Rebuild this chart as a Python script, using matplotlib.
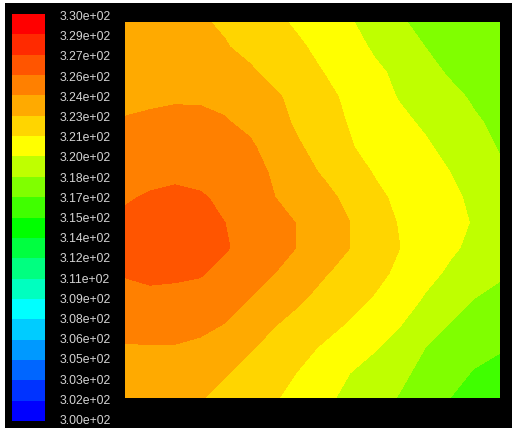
import numpy as np
import matplotlib
matplotlib.use('Agg')
import matplotlib.pyplot as plt
from matplotlib.patches import Rectangle

W, H = 512, 428

# temperature at the mesh nodes, top row first
temperature = [
    [323.0,322.95,322.85,322.65,322.3,321.8,321.25,320.75,320.2,319.6,319.0,318.2,317.5,317.1,316.9,316.7],
    [323.1,323.05,322.95,322.8,322.6,322.1,321.65,321.15,320.6,320.0,319.3,318.7,318.0,317.5,317.1,316.8],
    [323.3,323.4,323.4,323.3,323.1,322.7,322.05,321.5,320.95,320.35,319.75,319.2,318.55,317.8,317.3,316.9],
    [323.68,323.8,323.87,323.85,323.7,323.3,322.7,322.0,321.35,320.7,320.05,319.4,318.95,318.45,317.75,317.2],
    [324.1,324.2,324.3,324.3,324.1,323.7,323.0,322.2,321.5,320.9,320.3,319.8,319.3,318.8,318.2,317.6],
    [324.6,324.7,324.8,324.8,324.6,324.2,323.4,322.6,321.9,321.1,320.5,320.1,319.7,319.1,318.5,317.9],
    [325.1,325.2,325.3,325.2,325.0,324.5,323.8,323.0,322.3,321.6,320.9,320.4,319.9,319.5,318.9,318.2],
    [325.4,325.6,325.7,325.6,325.3,324.7,324.0,323.5,322.9,322.1,321.3,320.7,320.2,319.8,319.2,318.6],
    [325.7,325.8,325.9,325.8,325.5,325.0,324.4,323.9,323.2,322.5,321.6,320.9,320.4,319.9,319.38,318.7],
    [325.7,325.9,325.9,325.8,325.6,325.1,324.5,323.9,323.1,322.5,321.7,321.0,320.3,319.7,319.2,318.5],
    [325.6,325.7,325.7,325.6,325.2,324.7,324.0,323.3,322.6,322.0,321.4,320.7,319.9,319.3,318.7,318.2],
    [325.1,325.3,325.2,325.1,324.7,324.0,323.3,322.7,322.0,321.5,320.9,320.2,319.4,318.6,318.0,317.6],
    [324.5,324.6,324.6,324.4,324.0,323.3,322.6,322.0,321.5,320.9,320.3,319.6,318.7,318.0,317.4,317.1],
    [323.9,323.9,323.9,323.7,323.2,322.6,322.0,321.4,320.8,320.2,319.6,318.9,318.0,317.4,316.9,316.6],
    [323.5,323.4,323.3,323.0,322.6,322.1,321.5,320.9,320.2,319.5,318.9,318.3,317.6,316.9,316.4,316.1],
    [323.1,323.0,322.8,322.6,322.1,321.6,321.1,320.5,319.8,319.1,318.5,317.9,317.2,316.5,316.1,315.7],
]
levels = [300.0,301.5,303.0,304.5,306.0,307.5,309.0,310.5,312.0,313.5,315.0,
          316.5,318.0,319.5,321.0,322.5,324.0,325.5,327.0,328.5,330.0]
tick_labels = ['3.00e+02','3.02e+02','3.03e+02','3.05e+02','3.06e+02','3.08e+02','3.09e+02',
               '3.11e+02','3.12e+02','3.14e+02','3.15e+02','3.17e+02','3.18e+02','3.20e+02',
               '3.21e+02','3.23e+02','3.24e+02','3.26e+02','3.27e+02','3.29e+02','3.30e+02']
band_colors = ['#0000ff','#0033ff','#0066ff','#0099ff','#00ccff','#00ffff','#00ffbf','#00ff80',
               '#00ff40','#00ff00','#40ff00','#80ff00','#bfff00','#ffff00','#ffd500','#ffaa00',
               '#ff8000','#ff5500','#ff2a00','#ff0000']


def px_axes(fig, left, top, right, bottom):
    return fig.add_axes([left / W, 1 - bottom / H, (right - left) / W, (bottom - top) / H])


fig = plt.figure(figsize=(W / 100, H / 100), dpi=100, facecolor='white')
fig.patches.append(Rectangle((5 / W, 0), 1 - 5 / W, 1 - 3 / H, transform=fig.transFigure,
                             facecolor='black', edgecolor='none', zorder=-1))

ax = px_axes(fig, 125, 22, 500, 398)
ax.contourf(temperature, levels=levels, colors=band_colors, antialiased=False)
ax.invert_yaxis()
ax.axis('off')

bar = px_axes(fig, 12, 14, 45, 421)
for i, c in enumerate(band_colors):
    bar.axhspan(levels[i], levels[i + 1], color=c, lw=0)
bar.set_ylim(levels[0], levels[-1])
bar.set_xlim(0, 1)
bar.axis('off')

# labels sit on a slightly different span than the bar itself
lab = px_axes(fig, 60, 17, 112, 421)
lab.set_ylim(levels[0], levels[-1])
lab.set_xlim(0, 1)
lab.axis('off')
for v, s in zip(levels, tick_labels):
    lab.text(0, v, s, color='#d4d4d4', family='Liberation Sans', fontsize=8.8,
             ha='left', va='center', clip_on=False)

fig.savefig('out.png', dpi=100)
